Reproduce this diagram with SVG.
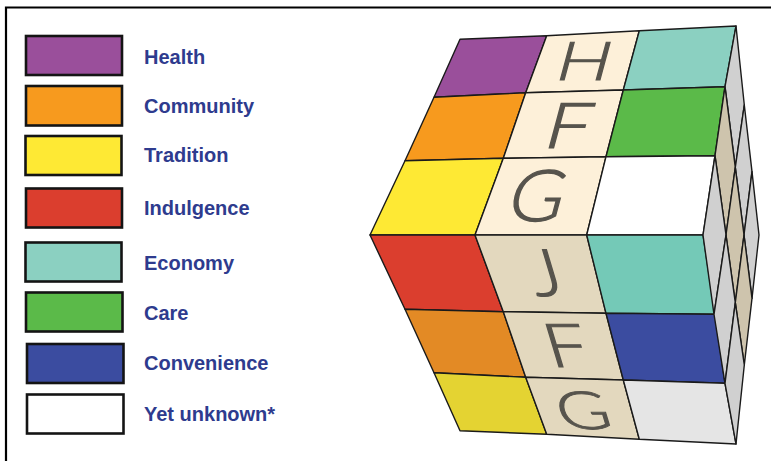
<svg xmlns="http://www.w3.org/2000/svg" width="771" height="461" viewBox="0 0 771 461">
<style>
.sw{stroke:#141414;stroke-width:2.6}
.lbl{font-family:"Liberation Sans",Arial,sans-serif;font-weight:bold;font-size:20px;fill:#2e3b8e}
.cell{stroke:#1a1a1a;stroke-width:1.4;stroke-linejoin:round}
.ltr{font-family:Lato,"Noto Sans",sans-serif;font-weight:300;font-size:50px;fill:#57544d;stroke:#57544d;stroke-width:0.9;text-anchor:middle}
</style>
<rect width="771" height="461" fill="#ffffff"/>
<path d="M6,461 V7.5 H771" fill="none" stroke="#000" stroke-width="2.2"/>
<g id="legend">
<g id="leg-health"><rect class="sw" x="26" y="36" width="96" height="39" fill="#9a4f9b"/><text class="lbl" x="144" y="64">Health</text></g>
<g id="leg-community"><rect class="sw" x="26" y="86" width="96" height="39.5" fill="#f79a1e"/><text class="lbl" x="144" y="113">Community</text></g>
<g id="leg-tradition"><rect class="sw" x="25.5" y="136" width="96" height="39" fill="#fee934"/><text class="lbl" x="144" y="162">Tradition</text></g>
<g id="leg-indulgence"><rect class="sw" x="26" y="188.5" width="96" height="39" fill="#db3e2e"/><text class="lbl" x="144" y="214.5">Indulgence</text></g>
<g id="leg-economy"><rect class="sw" x="25.5" y="242.5" width="96" height="39" fill="#8bd0c1"/><text class="lbl" x="144" y="269.5">Economy</text></g>
<g id="leg-care"><rect class="sw" x="26" y="292.5" width="96.5" height="39" fill="#5bba49"/><text class="lbl" x="144" y="319.5">Care</text></g>
<g id="leg-convenience"><rect class="sw" x="27" y="344" width="96.5" height="39" fill="#3b4ca0"/><text class="lbl" x="144" y="370">Convenience</text></g>
<g id="leg-unknown"><rect class="sw" x="27" y="394.5" width="96.5" height="39" fill="#ffffff"/><text class="lbl" x="144" y="421">Yet unknown*</text></g>
</g>
<g id="cube">
<g id="top-face">
<polygon class="cell" fill="#9a4f9b" points="460,39.3 546.7,35.7 525.7,92.7 434,97.3"/>
<polygon class="cell" fill="#fdf0d9" points="546.7,35.7 639.3,30.7 623.3,90 525.7,92.7"/>
<polygon class="cell" fill="#8bd0c1" points="639.3,30.7 736,26 725,86.7 623.3,90"/>
<polygon class="cell" fill="#f79a1e" points="434,97.3 525.7,92.7 503.3,158.3 405,160.7"/>
<polygon class="cell" fill="#fdf0d9" points="525.7,92.7 623.3,90 606,156.7 503.3,158.3"/>
<polygon class="cell" fill="#5bba49" points="623.3,90 725,86.7 715,155.7 606,156.7"/>
<polygon class="cell" fill="#fee934" points="405,160.7 503.3,158.3 475,235 370,235"/>
<polygon class="cell" fill="#fdf0d9" points="503.3,158.3 606,156.7 586.7,235 475,235"/>
<polygon class="cell" fill="#ffffff" points="606,156.7 715,155.7 703,235 586.7,235"/>
</g>
<g id="front-face">
<polygon class="cell" fill="#db3e2e" points="370,235 475,235 503.3,311.7 405,309.3"/>
<polygon class="cell" fill="#e3d8be" points="475,235 586.7,235 606,313.3 503.3,311.7"/>
<polygon class="cell" fill="#74c9b7" points="586.7,235 703,235 715,314.3 606,313.3"/>
<polygon class="cell" fill="#e38a25" points="405,309.3 503.3,311.7 525.7,377.3 434,372.7"/>
<polygon class="cell" fill="#e3d8be" points="503.3,311.7 606,313.3 623.3,380 525.7,377.3"/>
<polygon class="cell" fill="#3b4ca0" points="606,313.3 715,314.3 725,383.3 623.3,380"/>
<polygon class="cell" fill="#e4d332" points="434,372.7 525.7,377.3 546.7,434.3 460,430.7"/>
<polygon class="cell" fill="#e3d8be" points="525.7,377.3 623.3,380 639.3,439.3 546.7,434.3"/>
<polygon class="cell" fill="#e5e5e5" points="623.3,380 725,383.3 736,444 639.3,439.3"/>
</g>
<g id="right-face">
<polygon class="cell" fill="#d0d0d0" points="736,26 744.3,105 735.3,167.3 725,86.7"/>
<polygon class="cell" fill="#d0d0d0" points="744.3,105 752,171.7 744,235 735.3,167.3"/>
<polygon class="cell" fill="#d0d0d0" points="752,171.7 759,235 752,298.3 744,235"/>
<polygon class="cell" fill="#cec4ad" points="725,86.7 735.3,167.3 726,235 715,155.7"/>
<polygon class="cell" fill="#cec4ad" points="735.3,167.3 744,235 735.3,302.7 726,235"/>
<polygon class="cell" fill="#cec4ad" points="744,235 752,298.3 744.3,365 735.3,302.7"/>
<polygon class="cell" fill="#d0d0d0" points="715,155.7 726,235 714,314.3 703,235"/>
<polygon class="cell" fill="#d0d0d0" points="726,235 735.3,302.7 725,383.3 714,314.3"/>
<polygon class="cell" fill="#d0d0d0" points="735.3,302.7 744.3,365 736,444 725,383.3"/>
</g>
<g id="letters">
<text class="ltr" transform="translate(585.3,60.8) skewX(-15) scale(1.45,1.07)" x="0" y="17.9">H</text>
<text class="ltr" transform="translate(569.5,125.8) skewX(-15) scale(1.6,1.26)" x="0" y="17.9">F</text>
<text class="ltr" transform="translate(538.3,195) skewX(-15) scale(1.5,1.43)" x="0" y="17.9">G</text>
<text class="ltr" transform="translate(545,272.5) skewX(16.7) scale(1.5,1.31)" x="0" y="17.9">J</text>
<text class="ltr" transform="translate(566,345) skewX(16.7) scale(1.5,1.21)" x="0" y="17.9">F</text>
<text class="ltr" transform="translate(583,410.5) skewX(16.7) scale(1.45,1.05)" x="0" y="17.9">G</text>
</g>
</g>
</svg>
